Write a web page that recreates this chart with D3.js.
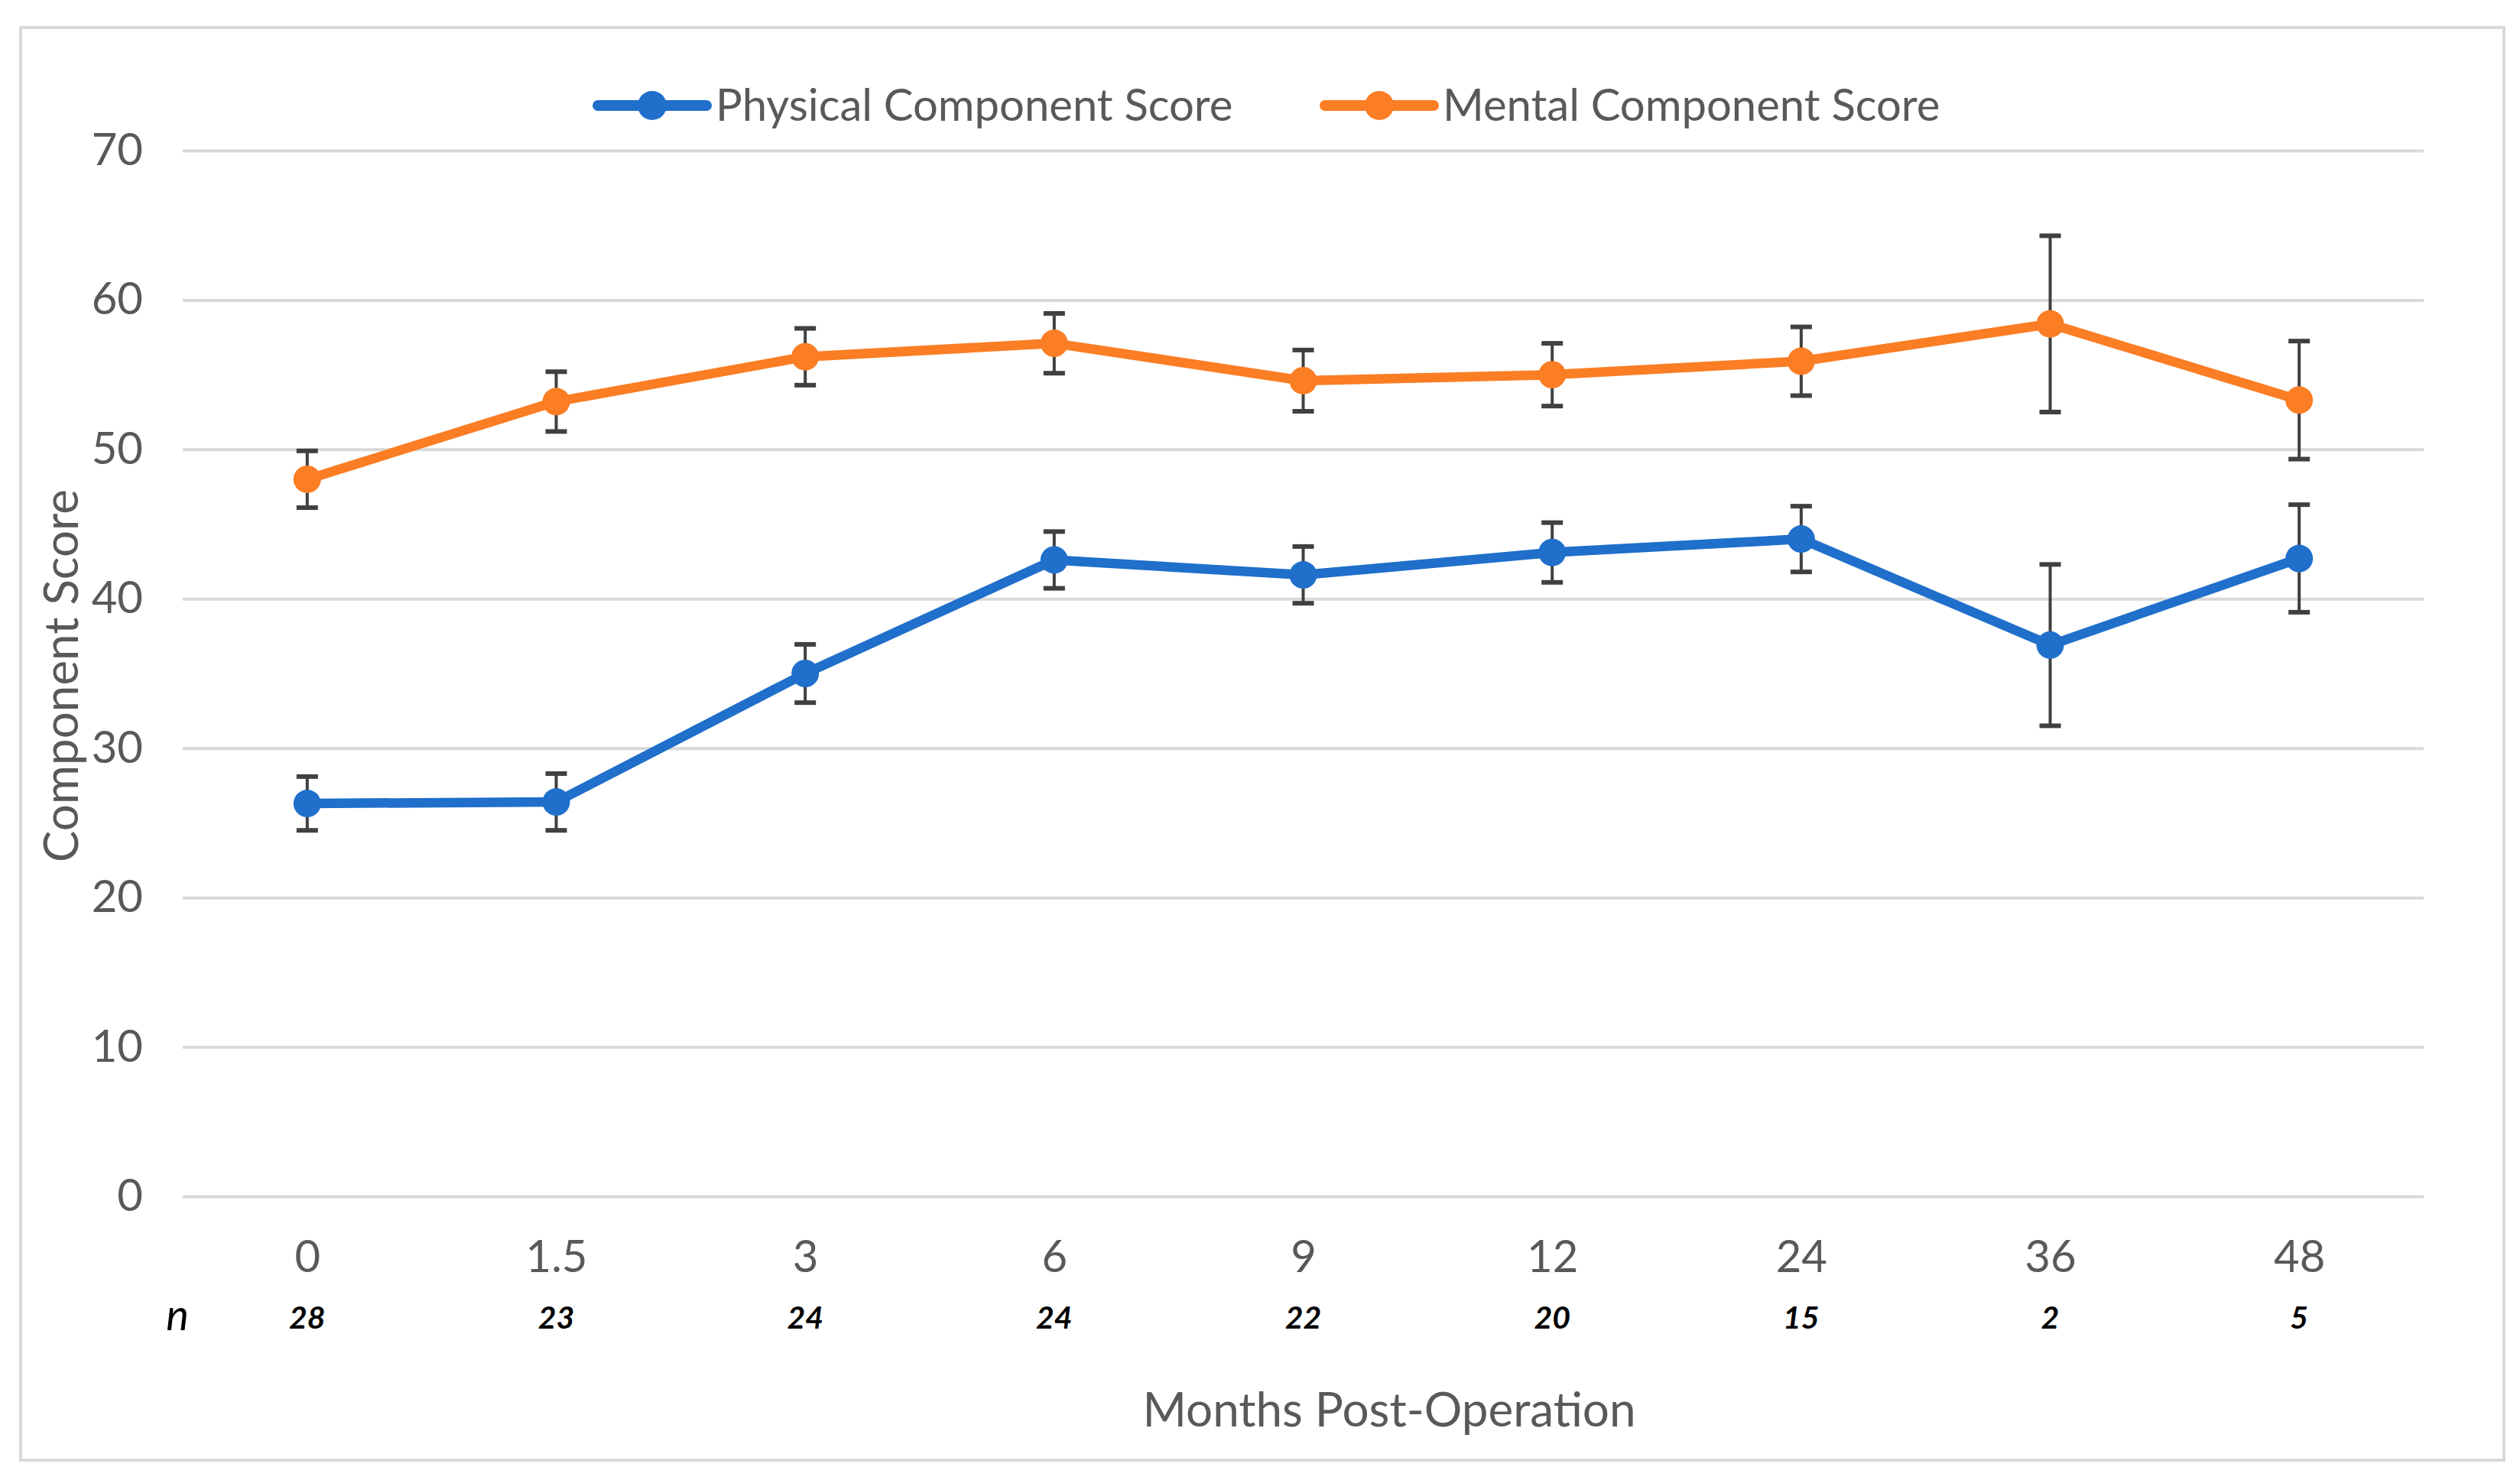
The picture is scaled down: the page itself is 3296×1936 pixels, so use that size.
<!DOCTYPE html>
<html>
<head>
<meta charset="utf-8">
<script src="https://cdn.jsdelivr.net/npm/d3@7"></script>
<style>
  body { margin: 0; background: #fff; }
  text { font-family: Lato, "Open Sans", sans-serif; }
</style>
</head>
<body>
<svg id="chart" width="3296" height="1936"></svg>
<script>
const months = ["0", "1.5", "3", "6", "9", "12", "24", "36", "48"];
const nCounts = ["28", "23", "24", "24", "22", "20", "15", "2", "5"];
const physical = [26.3, 26.4, 35.0, 42.6, 41.6, 43.1, 44.0, 36.9, 42.7];
const physicalErr = [1.8, 1.9, 1.95, 1.9, 1.9, 2.0, 2.2, 5.4, 3.6];
const mental = [48.0, 53.2, 56.2, 57.1, 54.6, 55.0, 55.9, 58.4, 53.3];
const mentalErr = [1.9, 2.0, 1.9, 2.0, 2.05, 2.1, 2.3, 5.9, 3.95];
const yTicks = [0, 10, 20, 30, 40, 50, 60, 70];

const series = [
    { name: "Physical Component Score", values: physical, err: physicalErr, color: "#1f6fcb" },
    { name: "Mental Component Score", values: mental, err: mentalErr, color: "#fb7d24" }
];

const plotLeft = 239, plotRight = 3170, plotTop = 197, plotBottom = 1565;

const svg = d3.select("#chart");

// outer frame
svg.append("rect")
    .attr("x", 27).attr("y", 36)
    .attr("width", 3248).attr("height", 1874)
    .attr("fill", "#fff")
    .attr("stroke", "#d9d9d9")
    .attr("stroke-width", 4);

const x = d3.scalePoint()
    .domain(months)
    .range([plotLeft, plotRight])
    .padding(0.5);

const y = d3.scaleLinear()
    .domain([0, 70])
    .range([plotBottom, plotTop]);

// y axis + gridlines
const yAxis = svg.append("g")
    .attr("transform", `translate(${plotLeft},0)`)
    .call(d3.axisLeft(y).tickValues(yTicks).tickSize(-(plotRight - plotLeft)).tickPadding(52));
yAxis.select(".domain").remove();
yAxis.selectAll(".tick line").attr("stroke", "#d9d9d9").attr("stroke-width", 4);
yAxis.selectAll(".tick text")
    .attr("fill", "#595959")
    .attr("font-size", 58);

// x axis labels
const xAxis = svg.append("g")
    .attr("transform", `translate(0,${plotBottom})`)
    .call(d3.axisBottom(x).tickSize(0).tickPadding(58));
xAxis.select(".domain").remove();
xAxis.selectAll(".tick text")
    .attr("fill", "#595959")
    .attr("font-size", 58);

// n row
svg.append("text")
    .attr("x", 232).attr("y", 1740)
    .attr("text-anchor", "middle")
    .attr("font-size", 56)
    .attr("font-style", "italic")
    .attr("fill", "#000")
    .text("n");

svg.append("g").selectAll("text")
    .data(months)
    .join("text")
    .attr("x", d => x(d))
    .attr("y", 1738)
    .attr("text-anchor", "middle")
    .attr("font-size", 41)
    .attr("font-weight", "bold")
    .attr("font-style", "italic")
    .attr("fill", "#000")
    .text((d, i) => nCounts[i]);

// axis titles
svg.append("text")
    .attr("x", 1817).attr("y", 1866)
    .attr("text-anchor", "middle")
    .attr("font-size", 62)
    .attr("fill", "#595959")
    .text("Months Post-Operation");

svg.append("text")
    .attr("transform", "translate(102,884) rotate(-90)")
    .attr("text-anchor", "middle")
    .attr("font-size", 62)
    .attr("fill", "#595959")
    .text("Component Score");

// series
const line = d3.line()
    .x((d, i) => x(months[i]))
    .y(d => y(d));

series.forEach(s => {
    const g = svg.append("g");

    g.append("path")
        .datum(s.values)
        .attr("fill", "none")
        .attr("stroke", s.color)
        .attr("stroke-width", 12.5)
        .attr("stroke-linejoin", "round")
        .attr("d", line);

    const bars = g.selectAll(".err")
        .data(s.values)
        .join("g")
        .attr("class", "err")
        .attr("stroke", "#404040")
        .attr("stroke-width", 4);

    bars.append("line")
        .attr("x1", (d, i) => x(months[i]))
        .attr("x2", (d, i) => x(months[i]))
        .attr("y1", (d, i) => y(d + s.err[i]))
        .attr("y2", (d, i) => y(d - s.err[i]));

    bars.append("line")
        .attr("x1", (d, i) => x(months[i]) - 14)
        .attr("x2", (d, i) => x(months[i]) + 14)
        .attr("y1", (d, i) => y(d + s.err[i]))
        .attr("y2", (d, i) => y(d + s.err[i]))
        .attr("stroke-width", 6);

    bars.append("line")
        .attr("x1", (d, i) => x(months[i]) - 14)
        .attr("x2", (d, i) => x(months[i]) + 14)
        .attr("y1", (d, i) => y(d - s.err[i]))
        .attr("y2", (d, i) => y(d - s.err[i]))
        .attr("stroke-width", 6);

    g.selectAll(".pt")
        .data(s.values)
        .join("circle")
        .attr("class", "pt")
        .attr("cx", (d, i) => x(months[i]))
        .attr("cy", d => y(d))
        .attr("r", 18)
        .attr("fill", s.color);
});

// legend
const legendPos = [782, 1733];
const legend = svg.append("g").selectAll("g")
    .data(series)
    .join("g")
    .attr("transform", (d, i) => `translate(${legendPos[i]},138)`);

legend.append("line")
    .attr("x1", 0).attr("x2", 142)
    .attr("stroke", d => d.color)
    .attr("stroke-width", 14)
    .attr("stroke-linecap", "round");

legend.append("circle")
    .attr("cx", 71)
    .attr("r", 19)
    .attr("fill", d => d.color);

legend.append("text")
    .attr("x", 154)
    .attr("dy", "0.35em")
    .attr("font-size", 58)
    .attr("fill", "#595959")
    .text(d => d.name);
</script>
</body>
</html>
